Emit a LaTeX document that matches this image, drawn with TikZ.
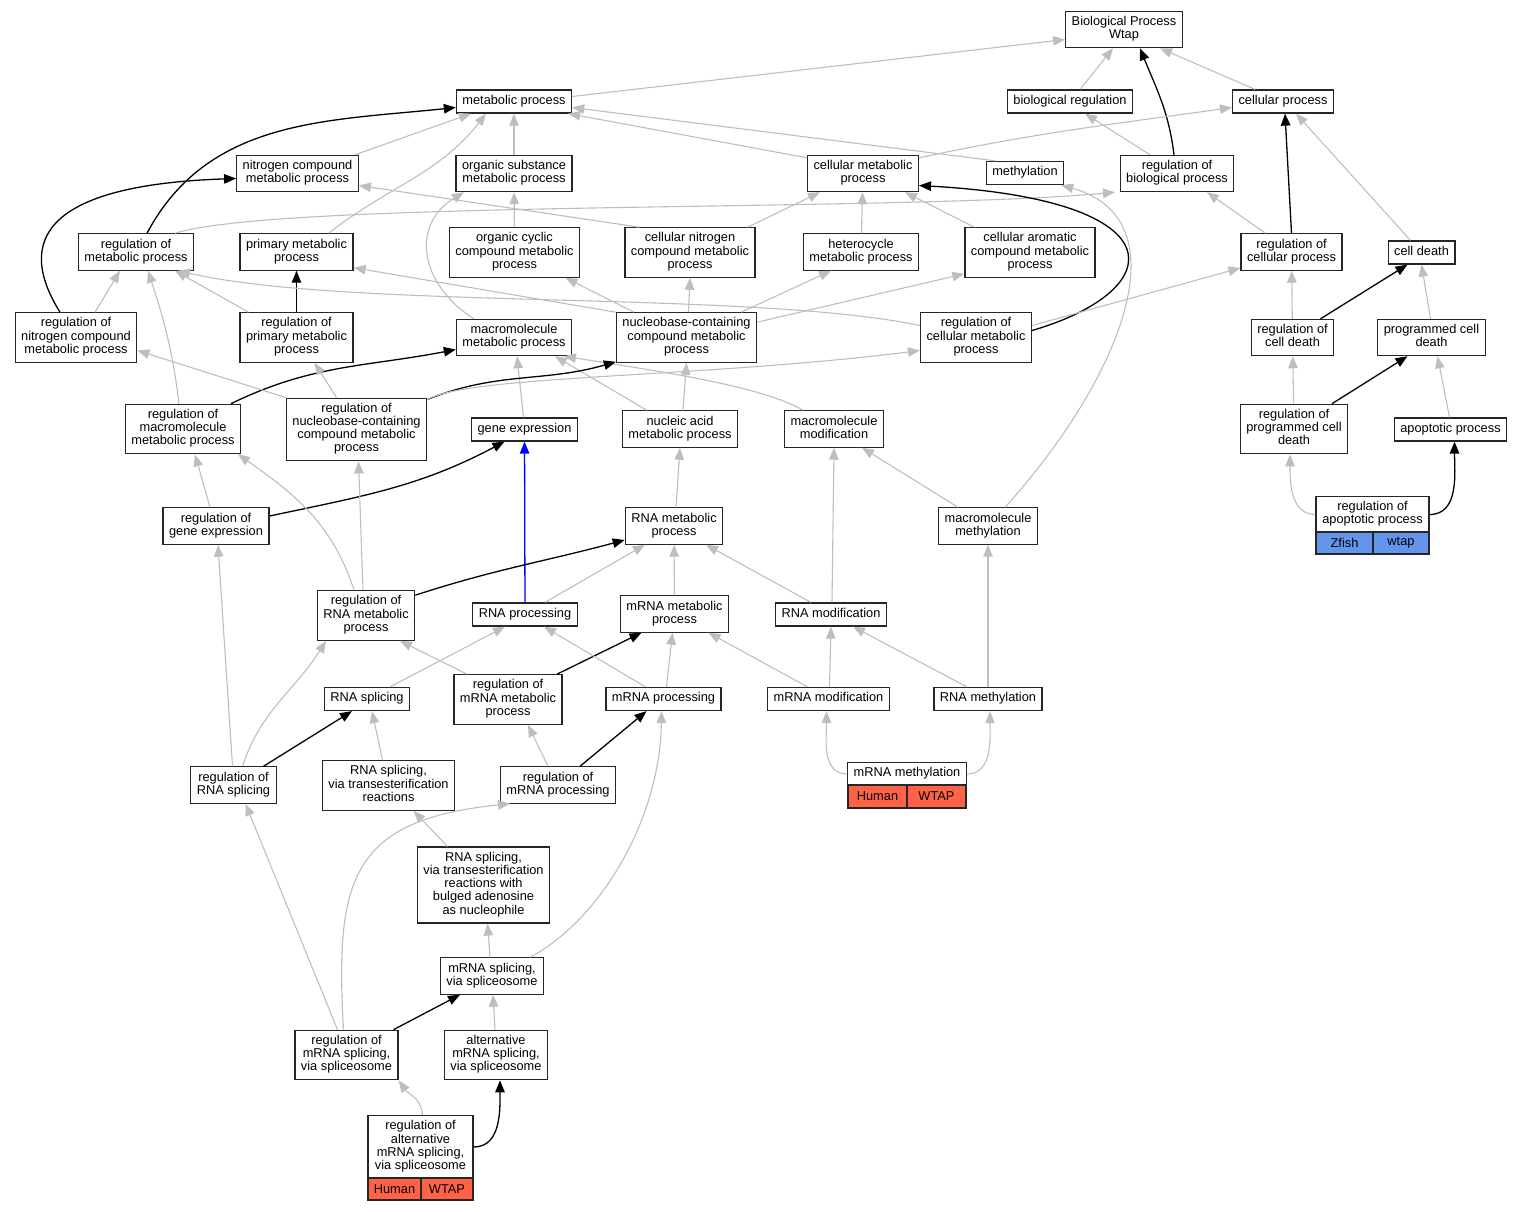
\documentclass[tikz,border=0pt]{standalone}
\usepackage{fontspec}
\setmainfont{Liberation Sans}
\usetikzlibrary{arrows.meta}
\definecolor{edgegray}{RGB}{190,190,190}
\definecolor{humanred}{RGB}{255,99,71}
\definecolor{fishblue}{RGB}{100,149,237}
\begin{document}
\begin{tikzpicture}[x=1pt,y=1pt,
  go/.style={draw=black!85,line width=1.2pt,fill=white,align=center,inner xsep=6pt,inner ysep=4.9pt,minimum height=23pt,font=\fontsize{12.8}{13.2}\selectfont,execute at begin node=\strut,execute at end node=\strut},
  cell/.style={draw=black!85,line width=1.2pt,inner sep=0pt,font=\fontsize{12.8}{13.2}\selectfont},
  gedge/.style={draw=edgegray,line width=1.1pt,-{Triangle[length=12pt,width=9.5pt]}},
  bedge/.style={draw=black,line width=1.3pt,-{Triangle[length=12pt,width=9.5pt]}},
  blueedge/.style={draw=blue,line width=1.3pt,-{Triangle[length=12pt,width=9.5pt]}}]
\useasboundingbox (0,0) rectangle (1523,-1211);
\node[go] (bp) at (1124,-29.5) {Biological Process\\Wtap};
\node[go] (metab) at (514,-101.5) {metabolic process};
\node[go] (bioreg) at (1070,-101.5) {biological regulation};
\node[go] (cellproc) at (1283,-101.5) {cellular process};
\node[go] (nitro) at (297.5,-173.5) {nitrogen compound\\metabolic process};
\node[go] (orgsub) at (514,-173.5) {organic substance\\metabolic process};
\node[go] (cellmet) at (863,-173.5) {cellular metabolic\\process};
\node[go] (methyl) at (1025,-173) {methylation};
\node[go] (regbio) at (1177,-173.5) {regulation of\\biological process};
\node[go] (regmet) at (136,-252) {regulation of\\metabolic process};
\node[go] (primet) at (296.5,-252) {primary metabolic\\process};
\node[go] (orgcyc) at (514.5,-252.5) {organic cyclic\\compound metabolic\\process};
\node[go] (cellnit) at (690,-252.5) {cellular nitrogen\\compound metabolic\\process};
\node[go] (hetero) at (861,-252) {heterocycle\\metabolic process};
\node[go] (cellaro) at (1030,-252.5) {cellular aromatic\\compound metabolic\\process};
\node[go] (regcell) at (1291.5,-252) {regulation of\\cellular process};
\node[go] (celldeath) at (1421.5,-252.5) {cell death};
\node[go] (regnit) at (76,-337.5) {regulation of\\nitrogen compound\\metabolic process};
\node[go] (regprim) at (296.5,-337.5) {regulation of\\primary metabolic\\process};
\node[go] (macmet) at (514,-337.5) {macromolecule\\metabolic process};
\node[go] (nucbase) at (686.5,-337.5) {nucleobase-containing\\compound metabolic\\process};
\node[go] (regcellmet) at (976,-337.5) {regulation of\\cellular metabolic\\process};
\node[go] (regcd) at (1292.5,-337.5) {regulation of\\cell death};
\node[go] (pcd) at (1431.5,-337.5) {programmed cell\\death};
\node[go] (regmacmet) at (183,-429) {regulation of\\macromolecule\\metabolic process};
\node[go] (regnuc) at (356.5,-429.5) {regulation of\\nucleobase-containing\\compound metabolic\\process};
\node[go] (geneexp) at (524.5,-429.5) {gene expression};
\node[go] (nucacid) at (680,-429) {nucleic acid\\metabolic process};
\node[go] (macmod) at (834,-429) {macromolecule\\modification};
\node[go] (regpcd) at (1294,-429) {regulation of\\programmed cell\\death};
\node[go] (apop) at (1450.5,-429.5) {apoptotic process};
\node[go] (reggene) at (216,-526) {regulation of\\gene expression};
\node[go] (rnamet) at (674,-526) {RNA metabolic\\process};
\node[go] (macmeth) at (988,-526) {macromolecule\\methylation};
\node[go,minimum width=113pt,minimum height=35pt] (regapop) at (1372.5,-514.5) {regulation of\\apoptotic process};
\node[cell,fill=fishblue,minimum width=57pt,minimum height=22pt] (regapop-sp) at (1344.5,-543) {Zfish};
\node[cell,fill=fishblue,minimum width=56pt,minimum height=22pt] (regapop-gene) at (1401,-543) {wtap};
\node[go] (regrnamet) at (366,-615.5) {regulation of\\RNA metabolic\\process};
\node[go] (rnaproc) at (525,-614.5) {RNA processing};
\node[go] (mrnamet) at (674.5,-614) {mRNA metabolic\\process};
\node[go] (rnamod) at (831,-614.5) {RNA modification};
\node[go] (rnaspl) at (367,-699) {RNA splicing};
\node[go] (regmrnamet) at (508,-699.5) {regulation of\\mRNA metabolic\\process};
\node[go] (mrnaproc) at (663.5,-699) {mRNA processing};
\node[go] (mrnamod) at (828.5,-699) {mRNA modification};
\node[go] (rnameth) at (988,-699) {RNA methylation};
\node[go] (regrnaspl) at (233.5,-785) {regulation of\\RNA splicing};
\node[go] (rnatrans) at (388.5,-785.5) {RNA splicing,\\via transesterification\\reactions};
\node[go] (regmrnaproc) at (558,-785) {regulation of\\mRNA processing};
\node[go,minimum width=118pt,minimum height=22pt] (mrnameth) at (907,-774) {mRNA methylation};
\node[cell,fill=humanred,minimum width=59pt,minimum height=23pt] (mrnameth-sp) at (877.5,-796.5) {Human};
\node[cell,fill=humanred,minimum width=59pt,minimum height=23pt] (mrnameth-gene) at (936.5,-796.5) {WTAP};
\node[go] (rnabulged) at (483.5,-885) {RNA splicing,\\via transesterification\\reactions with\\bulged adenosine\\as nucleophile};
\node[go] (mrnaspl) at (492,-976) {mRNA splicing,\\via spliceosome};
\node[go] (regmrnaspl) at (346.5,-1055) {regulation of\\mRNA splicing,\\via spliceosome};
\node[go] (altspl) at (496,-1055) {alternative\\mRNA splicing,\\via spliceosome};
\node[go,minimum width=105pt,minimum height=62pt] (regaltspl) at (420.5,-1147) {regulation of\\alternative\\mRNA splicing,\\via spliceosome};
\node[cell,fill=humanred,minimum width=53pt,minimum height=22pt] (regaltspl-sp) at (394.5,-1189) {Human};
\node[cell,fill=humanred,minimum width=52pt,minimum height=22pt] (regaltspl-gene) at (447,-1189) {WTAP};
\draw[gedge] ([yshift=5pt]metab.east) -- ([yshift=-10pt]bp.west);
\draw[gedge] ([xshift=10pt]bioreg.north) -- ([xshift=-11pt]bp.south);
\draw[gedge] ([xshift=-28pt]cellproc.north) -- ([xshift=36pt]bp.south);
\draw[bedge] ([xshift=-3pt]regbio.north) to[out=97,in=-68] ([xshift=16pt]bp.south);
\draw[gedge] ([xshift=-4pt]nitro.north east) -- ([xshift=-43pt]metab.south);
\draw[gedge] ([xshift=-25pt]primet.north east) to[out=38,in=-128] ([xshift=-28pt]metab.south);
\draw[gedge] (orgsub) -- (metab);
\draw[gedge] ([yshift=-3pt]cellmet.north west) -- ([xshift=-4pt]metab.south east);
\draw[gedge] ([xshift=10pt]methyl.north west) -- ([yshift=-6pt]metab.east);
\draw[bedge] ([xshift=11pt]regmet.north) to[out=62,in=186] ([yshift=-6pt]metab.west);
\draw[gedge] ([xshift=-27pt]regbio.north) -- ([xshift=15pt]bioreg.south);
\draw[gedge] ([yshift=-3pt]cellmet.north east) to[out=12,in=188] ([yshift=-6pt]cellproc.west);
\draw[bedge] (regcell.north) -- ([xshift=2pt]cellproc.south);
\draw[gedge] ([xshift=-11pt]celldeath.north) -- ([xshift=13pt]cellproc.south);
\draw[gedge] ([xshift=-26pt]regcell.north) -- ([xshift=30pt]regbio.south);
\draw[gedge] ([xshift=39pt]regmet.north) .. controls (280,-200) and (900,-212) .. ([xshift=-62pt]regbio.south);
\draw[gedge] (orgcyc) -- (orgsub);
\draw[gedge] ([xshift=-40pt]macmet.north) .. controls (420,-285) and (410,-225) .. ([xshift=-50pt]orgsub.south);
\draw[bedge] ([xshift=-16pt]regnit.north) .. controls (15,-240) and (45,-185) .. ([yshift=-5pt]nitro.west);
\draw[gedge] ([xshift=19pt]regnit.north) -- ([xshift=-16pt]regmet.south);
\draw[gedge] ([xshift=15pt]cellnit.north west) -- ([yshift=-12pt]nitro.east);
\draw[gedge] ([xshift=-8pt]cellnit.north east) -- ([xshift=-43pt]cellmet.south);
\draw[gedge] (hetero) -- (cellmet);
\draw[gedge] ([xshift=10pt]cellaro.north west) -- ([xshift=42pt]cellmet.south);
\draw[bedge] (regprim) -- (primet);
\draw[gedge] ([xshift=-48pt]regprim.north) -- ([xshift=39pt]regmet.south);
\draw[gedge] (nucbase.north west) -- ([yshift=3pt]primet.south east);
\draw[gedge] ([xshift=18pt]nucbase.north west) -- ([xshift=51pt]orgcyc.south);
\draw[gedge] ([xshift=2pt]nucbase.north) -- (cellnit.south);
\draw[gedge] ([xshift=-16pt]nucbase.north east) -- ([xshift=-30pt]hetero.south);
\draw[gedge] ([yshift=-10pt]nucbase.north east) -- ([yshift=4pt]cellaro.south west);
\draw[gedge] ([yshift=12pt]regcellmet.west) .. controls (750,-290) and (350,-310) .. ([xshift=42pt]regmet.south);
\draw[bedge] ([yshift=7pt]regcellmet.east) .. controls (1170,-290) and (1180,-200) .. ([yshift=-12pt]cellmet.east);
\draw[gedge] ([yshift=12pt]regcellmet.east) -- ([yshift=-16pt]regcell.west);
\draw[gedge] ([xshift=-1pt]geneexp.north) -- ([xshift=3pt]macmet.south);
\draw[gedge] ([xshift=-33pt]nucacid.north) -- ([xshift=41pt]macmet.south);
\draw[gedge] ([xshift=-31pt]macmod.north) .. controls (760,-385) and (650,-370) .. ([xshift=50pt]macmet.south);
\draw[gedge] ([xshift=3pt]nucacid.north) -- (nucbase.south);
\draw[bedge] ([xshift=48pt]regmacmet.north) to[out=26,in=191] ([yshift=-12pt]macmet.west);
\draw[gedge] ([xshift=-4pt]regmacmet.north) to[out=97,in=-72] ([xshift=12pt]regmet.south);
\draw[gedge] (regnuc.north west) -- ([yshift=-13pt]regnit.east);
\draw[gedge] ([xshift=-20pt]regnuc.north) -- ([xshift=18pt]regprim.south);
\draw[bedge] ([yshift=-2pt]regnuc.north east) to[out=22,in=196] ([yshift=1pt]nucbase.south west);
\draw[gedge] ([yshift=-2pt]regnuc.north east) .. controls (470,-375) and (700,-378) .. ([yshift=-13pt]regcellmet.west);
\draw[gedge] ([xshift=-6pt]reggene.north) -- ([xshift=12pt]regmacmet.south);
\draw[bedge] ([yshift=10pt]reggene.east) to[out=12,in=-152] ([xshift=-20pt]geneexp.south);
\draw[blueedge] (rnaproc) -- (geneexp);
\draw[gedge] ([xshift=2pt]rnamet.north) -- (nucacid.south);
\draw[gedge] ([xshift=-30pt]macmeth.north) -- ([xshift=28pt]macmod.south);
\draw[gedge] ([xshift=17pt]macmeth.north) .. controls (1120,-380) and (1185,-220) .. ([xshift=-3pt]methyl.south east);
\draw[gedge] ([xshift=1pt]rnamod.north) -- (macmod.south);
\draw[gedge] (regapop.west) to[out=180,in=-90] ([xshift=-4pt]regpcd.south);
\draw[bedge] (regapop.east) to[out=0,in=-90] ([xshift=4pt]apop.south);
\draw[gedge] ([xshift=-1pt]apop.north) -- ([xshift=6pt]pcd.south);
\draw[gedge] (regpcd) -- (regcd);
\draw[bedge] ([xshift=38pt]regpcd.north) -- ([xshift=-24pt]pcd.south);
\draw[gedge] (regcd) -- (regcell);
\draw[bedge] ([xshift=28pt]regcd.north) -- ([xshift=-14pt]celldeath.south);
\draw[gedge] ([xshift=-1pt]pcd.north) -- (celldeath.south);
\draw[gedge] ([xshift=-3pt]regrnamet.north) -- ([xshift=2pt]regnuc.south);
\draw[gedge] ([xshift=-12pt]regrnamet.north) to[out=108,in=-35] ([xshift=55pt]regmacmet.south);
\draw[bedge] ([yshift=-5pt]regrnamet.north east) to[out=18,in=195] ([yshift=-14pt]rnamet.west);
\draw[gedge] ([xshift=20pt]rnaproc.north) -- ([xshift=-29pt]rnamet.south);
\draw[gedge] (mrnamet) -- (rnamet);
\draw[gedge] ([xshift=-20pt]rnamod.north) -- ([xshift=32pt]rnamet.south);
\draw[gedge] ([xshift=23pt]rnaspl.north) -- ([xshift=-20pt]rnaproc.south);
\draw[gedge] ([xshift=-41pt]regmrnamet.north) -- ([xshift=34pt]regrnamet.south);
\draw[bedge] ([xshift=49pt]regmrnamet.north) -- ([xshift=-33pt]mrnamet.south);
\draw[gedge] ([xshift=-18pt]mrnaproc.north) -- ([xshift=19pt]rnaproc.south);
\draw[gedge] ([xshift=3pt]mrnaproc.north) -- ([xshift=-2pt]mrnamet.south);
\draw[gedge] ([xshift=-21pt]mrnamod.north) -- ([xshift=34pt]mrnamet.south);
\draw[gedge] ([xshift=1pt]mrnamod.north) -- (rnamod.south);
\draw[gedge] ([xshift=-21pt]rnameth.north) -- ([xshift=22pt]rnamod.south);
\draw[gedge] (rnameth) -- (macmeth);
\draw[gedge] (mrnameth.west) to[out=180,in=-90] ([xshift=-2pt]mrnamod.south);
\draw[gedge] (mrnameth.east) to[out=0,in=-90] ([xshift=2pt]rnameth.south);
\draw[bedge] ([xshift=30pt]regrnaspl.north) -- ([xshift=-15pt]rnaspl.south);
\draw[gedge] ([xshift=9pt]regrnaspl.north) to[out=72,in=-122] ([xshift=-40pt]regrnamet.south);
\draw[gedge] ([xshift=-1pt]regrnaspl.north) -- ([xshift=2pt]reggene.south);
\draw[gedge] ([xshift=-6pt]rnatrans.north) -- ([xshift=5pt]rnaspl.south);
\draw[gedge] ([xshift=-10pt]regmrnaproc.north) -- ([xshift=20pt]regmrnamet.south);
\draw[bedge] ([xshift=22pt]regmrnaproc.north) -- ([xshift=-17pt]mrnaproc.south);
\draw[gedge] ([xshift=-36pt]rnabulged.north) -- ([xshift=25pt]rnatrans.south);
\draw[gedge] ([xshift=-2pt]mrnaspl.north) -- ([xshift=4pt]rnabulged.south);
\draw[gedge] ([xshift=38pt]mrnaspl.north) .. controls (600,-920) and (660,-820) .. ([xshift=-2pt]mrnaproc.south);
\draw[bedge] ([xshift=47pt]regmrnaspl.north) -- ([xshift=-32pt]mrnaspl.south);
\draw[gedge] ([xshift=-9pt]regmrnaspl.north) -- ([xshift=12pt]regrnaspl.south);
\draw[gedge] ([xshift=-3pt]regmrnaspl.north) .. controls (335,-880) and (350,-820) .. ([xshift=-48pt]regmrnaproc.south);
\draw[gedge] ([xshift=-1pt]altspl.north) -- ([xshift=1pt]mrnaspl.south);
\draw[gedge] ([xshift=2pt]regaltspl.north) to[out=92,in=-55] (regmrnaspl.south east);
\draw[bedge] (regaltspl.east) to[out=0,in=-90] ([xshift=4pt]altspl.south);
\end{tikzpicture}
\end{document}
